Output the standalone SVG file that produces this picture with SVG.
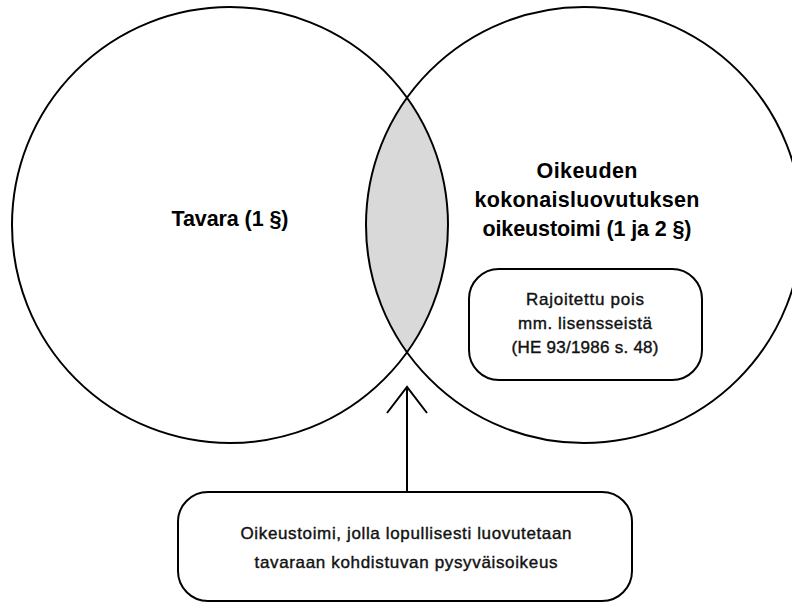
<svg xmlns="http://www.w3.org/2000/svg" width="792" height="603" viewBox="0 0 792 603">
<style>
.c{fill:none;stroke:#000;stroke-width:2}
.box{fill:#fff;stroke:#000;stroke-width:2}
.t{font-family:"Liberation Sans",Arial,sans-serif;font-weight:bold;font-size:21.5px;fill:#000;text-anchor:middle}
.s{font-family:"Liberation Sans",Arial,sans-serif;font-size:17px;fill:#111;text-anchor:middle;stroke:#111;stroke-width:0.4}
.ln{fill:none;stroke:#000;stroke-width:2}
</style>
<rect width="792" height="603" fill="#fff"/>
<g id="lens">
<path d="M407 98.5 A218 218 0 0 1 407 351.5 A218 218 0 0 1 407 98.5 Z" fill="#d9d9d9" stroke="none"/>
</g>
<g id="tavara">
<circle class="c" cx="230" cy="225" r="218"/>
<text class="t" x="230" y="226" textLength="117">Tavara (1 §)</text>
</g>
<g id="oikeuden">
<circle class="c" cx="584" cy="225" r="218"/>
<text class="t" x="587" y="178" textLength="101">Oikeuden</text>
<text class="t" x="587" y="207" textLength="225">kokonaisluovutuksen</text>
<text class="t" x="587" y="236" textLength="209">oikeustoimi (1 ja 2 §)</text>
</g>
<g id="rajoitettu">
<rect class="box" x="469" y="269" width="233" height="111" rx="30"/>
<text class="s" x="585" y="305" textLength="118">Rajoitettu pois</text>
<text class="s" x="585" y="329" textLength="134">mm. lisensseistä</text>
<text class="s" x="585" y="353" textLength="147">(HE 93/1986 s. 48)</text>
</g>
<g id="connectors">
<line class="ln" x1="407" y1="492" x2="407" y2="388"/>
<polyline class="ln" points="387,413 407,387 427,413"/>
</g>
<g id="oikeustoimi">
<rect class="box" x="178" y="492" width="454" height="109" rx="30"/>
<text class="s" x="406" y="539" textLength="331">Oikeustoimi, jolla lopullisesti luovutetaan</text>
<text class="s" x="406" y="568" textLength="303">tavaraan kohdistuvan pysyväisoikeus</text>
</g>
</svg>
